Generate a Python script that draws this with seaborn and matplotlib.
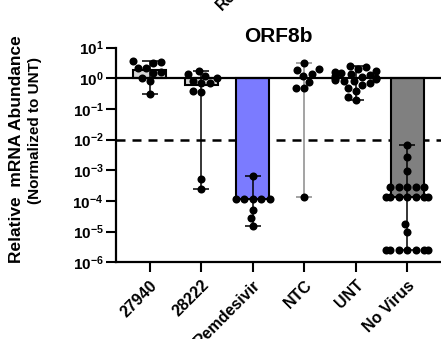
import numpy as np
import pandas as pd
import matplotlib
matplotlib.use("Agg")
import matplotlib.pyplot as plt
import seaborn as sns

# ---- data -------------------------------------------------------------
groups = ["27940", "28222", "Remdesivir", "NTC", "UNT", "No Virus"]

vals_27940 = [3.6, 3.4, 3.1, 2.2, 2.1, 1.6, 1.45, 1.05, 0.82, 0.30]
vals_28222 = [1.8, 1.35, 1.2, 1.0, 0.82, 0.69, 0.69, 0.40, 0.37, 5.1e-4, 2.4e-4]
vals_remdesivir = [6.5e-4, 1.2e-4, 1.2e-4, 1.2e-4, 1.2e-4, 1.2e-4,
                   5e-5, 2.7e-5, 1.5e-5]
vals_ntc = [3.1, 2.0, 1.9, 1.35, 1.2, 0.78, 0.47, 0.47, 1.3e-4]
vals_unt = [2.6, 2.3, 2.0, 1.8, 1.6, 1.5, 1.4, 1.3, 1.2, 1.1, 1.05,
            1.0, 0.95, 0.9, 0.85, 0.8, 0.7, 0.6, 0.5, 0.4, 0.25, 0.2]
vals_novirus = [6.6e-3, 2.8e-3, 9.5e-4,
                2.9e-4, 2.9e-4, 2.9e-4, 2.9e-4, 2.9e-4,
                1.3e-4, 1.3e-4, 1.3e-4, 1.3e-4, 1.3e-4, 1.3e-4, 1.3e-4,
                1.8e-5, 1.0e-5,
                2.5e-6, 2.5e-6, 2.5e-6, 2.5e-6, 2.5e-6, 2.5e-6, 2.5e-6]

bar_values = [1.85, 0.63, 1.2e-4, 1.05, 1.0, 1.3e-4]
bar_colors = ["#d6d6d6", "#d6d6d6", "#7b7bff", "#ffffff", "#ffffff", "#808080"]
bar_edges = ["black", "black", "black", "none", "none", "black"]
err_colors = ["black", "black", "black", "#8a8a8a", "black", "black"]

threshold = 1e-2
ytick_vals = [1e-6, 1e-5, 1e-4, 1e-3, 1e-2, 1e-1, 1e0, 1e1]
ytick_labels = [r"$\mathbf{10^{-6}}$", r"$\mathbf{10^{-5}}$", r"$\mathbf{10^{-4}}$",
                r"$\mathbf{10^{-3}}$", r"$\mathbf{10^{-2}}$", r"$\mathbf{10^{-1}}$",
                r"$\mathbf{10^{0}}$", r"$\mathbf{10^{1}}$"]

series = [vals_27940, vals_28222, vals_remdesivir, vals_ntc, vals_unt, vals_novirus]
df = pd.DataFrame({
    "group": np.concatenate([[g] * len(v) for g, v in zip(groups, series)]),
    "value": np.concatenate(series),
})

# ---- style ------------------------------------------------------------
sns.set_style("ticks")
plt.rcParams["font.family"] = ["Liberation Sans", "DejaVu Sans"]
plt.rcParams["mathtext.fontset"] = "custom"
plt.rcParams["mathtext.rm"] = "Liberation Sans"
plt.rcParams["mathtext.bf"] = "Liberation Sans:bold"
plt.rcParams["mathtext.it"] = "Liberation Sans:italic"
for key in ["text.color", "axes.labelcolor", "xtick.color", "ytick.color"]:
    plt.rcParams[key] = "black"

W, H = 441, 339
fig = plt.figure(figsize=(W / 100, H / 100), dpi=100)
left, right, top, bottom = 116, 441, 47.7, 262.3
ax = fig.add_axes([left / W, 1 - bottom / H, (right - left) / W, (bottom - top) / H])
ax.set_yscale("log")
ax.set_ylim(1e-6, 10)

# bars grow from the 10^0 baseline
x = np.arange(len(groups))
ax.bar(x, np.array(bar_values) - 1.0, bottom=1.0, width=0.64,
       color=bar_colors, edgecolor=bar_edges, linewidth=1.5, zorder=2)

# min-max range whiskers
for i, v in enumerate(series):
    lo, hi = min(v), max(v)
    ax.errorbar(x[i], bar_values[i],
                yerr=[[bar_values[i] - lo], [hi - bar_values[i]]],
                fmt="none", ecolor=err_colors[i], elinewidth=1.1,
                capsize=6, capthick=1.1, zorder=3)

sns.swarmplot(data=df, x="group", y="value", order=groups, color="black",
              size=5.8, linewidth=0, ax=ax, zorder=4)

ax.axhline(1.0, color="black", lw=1.6, zorder=3.5)
ax.axhline(threshold, color="black", lw=1.8, ls=(0, (3.6, 2.8)), zorder=1)

ax.set_xlim(-0.66, 5.66)
ax.set_yticks(ytick_vals)
ax.set_yticklabels(ytick_labels, fontsize=11)
ax.yaxis.set_minor_locator(matplotlib.ticker.NullLocator())
ax.set_xticks(x)
ax.set_xticklabels(groups, rotation=45, ha="right", rotation_mode="anchor",
                   fontsize=11.5, fontweight="bold")
ax.tick_params(axis="both", direction="out", length=7, width=1.5, color="black", pad=2)
ax.tick_params(axis="x", pad=4)
ax.set_xlabel("")
ax.set_ylabel("")
for s in ["top", "right"]:
    ax.spines[s].set_visible(False)
for s in ["left", "bottom"]:
    ax.spines[s].set_linewidth(1.6)
    ax.spines[s].set_color("black")

# two-line axis title
fig.text(17 / W, 1 - 149 / H, "Relative  mRNA Abundance", rotation=90,
         ha="center", va="center", fontsize=12.5, fontweight="bold")
fig.text(35 / W, 1 - 130 / H, "(Normalized to UNT)", rotation=90,
         ha="center", va="center", fontsize=11, fontweight="bold")

ax.set_title("ORF8b", fontsize=15, fontweight="bold", pad=4)

# tail of the neighbouring panel's category label
fig.text(274 / W, 1 + 59 / H, "Remdesivir", rotation=45, ha="right", va="top",
         rotation_mode="anchor", fontsize=11.5, fontweight="bold")

fig.savefig("out.png", dpi=100)
